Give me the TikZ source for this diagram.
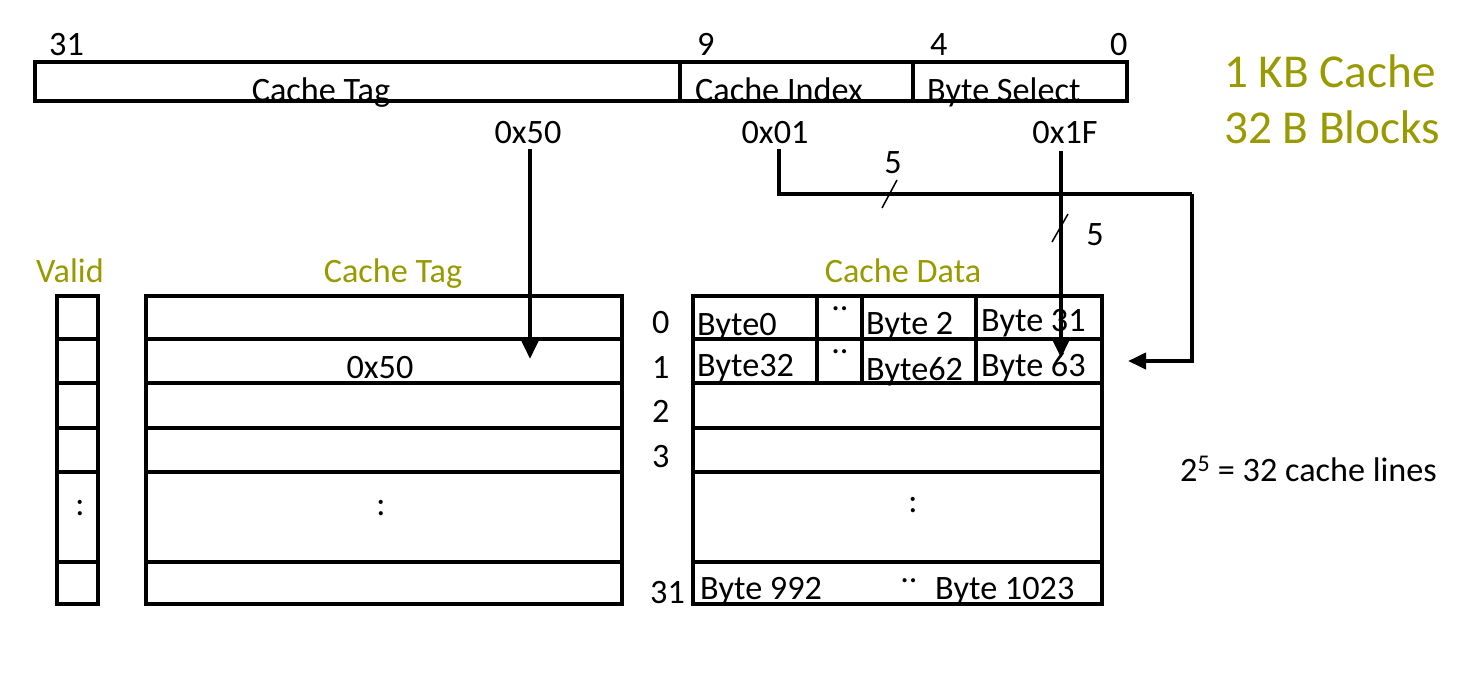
\documentclass[tikz,border=0pt]{standalone}
\usepackage{fontspec}
\setmainfont{Carlito}
\usetikzlibrary{arrows.meta}
\definecolor{kgreen}{RGB}{153,153,0}
\begin{document}
\begin{tikzpicture}[x=1pt,y=-1pt,
  box/.style={draw,line width=4pt},
  lbl/.style={inner sep=0pt,font=\fontsize{34.2}{41}\selectfont},
  glbl/.style={lbl,text=kgreen},
  big/.style={inner sep=0pt,text=kgreen,font=\fontsize{47.2}{56}\selectfont},
  arr/.style={line width=4pt,-{Triangle[length=18pt,width=16pt]}},
  tick/.style={line width=1.5pt}]
\useasboundingbox (0,0) rectangle (1466,673);
% address
\draw[box] (35,62) rectangle (1127,101);
\draw[box] (680,62) -- (680,101);
\draw[box] (913,62) -- (913,101);
\node[lbl,anchor=base] (tTag) at (321,101) {Cache Tag};
\node[lbl,anchor=base west] (tIdx) at (695,101) {Cache Index};
\node[lbl,anchor=base west] (tBs) at (927,101) {Byte Select};
\node[lbl,anchor=base west] (b31) at (49,55) {31};
\node[lbl,anchor=base west] (b9) at (697,55) {9};
\node[lbl,anchor=base west] (b4) at (930,55) {4};
\node[lbl,anchor=base west] (b0) at (1110,55) {0};
\node[big,anchor=base west] (kb) at (1224,87) {1 KB Cache};
\node[big,anchor=base west] (blk) at (1224,143) {32 B Blocks};
% hex values
\node[lbl,anchor=base] (h50) at (528,143) {0x50};
\node[lbl,anchor=base] (h01) at (775,143) {0x01};
\node[lbl,anchor=base] (h1f) at (1065,143) {0x1F};
\coordinate (a50) at (530,359);
\coordinate (c1) at (1192,194);
\coordinate (a01) at (1128,361);
\coordinate (a1f) at (1061,358);
\draw[arr] ([xshift=2pt,yshift=-6pt]h50.south) -- (a50);
\draw[line width=4pt] ([xshift=4pt,yshift=-6pt]h01.south) |- (c1);
\draw[arr] (c1) |- (a01);
\draw[arr] ([xshift=-4pt,yshift=-8pt]h1f.south) -- (a1f);
\draw[tick] (882,208) -- (897,180);
\node[lbl,anchor=base] (n5a) at (893,173) {5};
\draw[tick] (1052,242) -- (1068,214);
\node[lbl,anchor=base] (n5b) at (1095,245) {5};
% headings
\node[glbl,anchor=base] (hv) at (70,282) {Valid};
\node[glbl,anchor=base] (ht) at (393,282) {Cache Tag};
\node[glbl,anchor=base] (hd) at (903,282) {Cache Data};
% arrays
\draw[box] (57,296) rectangle (98,604);
\draw[box] (146,296) rectangle (622,604);
\draw[box] (693,296) rectangle (1102,604);
\foreach \y in {339,383,428,472,562}{
  \draw[box] (57,\y) -- (98,\y);
  \draw[box] (146,\y) -- (622,\y);
  \draw[box] (693,\y) -- (1102,\y);
}
\foreach \x in {817,862,976}{\draw[box] (\x,296) -- (\x,383);}
% row numbers
\node[lbl,anchor=base west] (r0) at (652,333) {0};
\node[lbl,anchor=base west] (r1) at (652,378) {1};
\node[lbl,anchor=base west] (r2) at (652,422) {2};
\node[lbl,anchor=base west] (r3) at (652,467) {3};
\node[lbl,anchor=base west] (r31) at (650,603) {31};
% contents
\node[lbl,anchor=base] (v50) at (380,378) {0x50};
\node[lbl] (vd) at (80,508) {:};
\node[lbl] (td) at (381,508) {:};
\node[lbl] (dd) at (913,505) {:};
\node[lbl,anchor=base west] (d00) at (697,335) {Byte0};
\node[lbl,anchor=base] (d01) at (840,310) {..};
\node[lbl,anchor=base west] (d02) at (866,334) {Byte 2};
\node[lbl,anchor=base west] (d03) at (981,331) {Byte 31};
\node[lbl,anchor=base west] (d10) at (697,376) {Byte32};
\node[lbl,anchor=base] (d11) at (840,353) {..};
\node[lbl,anchor=base west] (d12) at (866,380) {Byte62};
\node[lbl,anchor=base west] (d13) at (981,376) {Byte 63};
\node[lbl,anchor=base west] (d20) at (700,599) {Byte 992};
\node[lbl,anchor=base] (d21) at (909,582) {..};
\node[lbl,anchor=base west] (d22) at (935,599) {Byte 1023};
\node[lbl,anchor=base west] (lines) at (1180,481) {2\textsuperscript{5} = 32 cache lines};
\end{tikzpicture}
\end{document}
